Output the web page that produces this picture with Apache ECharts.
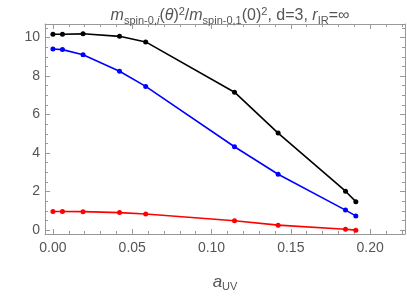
<!DOCTYPE html>
<html><head><meta charset="utf-8">
<script src="https://cdn.jsdelivr.net/npm/echarts@6/dist/echarts.min.js"></script>
<style>html,body{margin:0;padding:0;background:#fff}#c{width:407px;height:297px}</style>
</head><body><div id="c"></div>
<script>
const aUV = [0, 0.006, 0.019, 0.042, 0.0585, 0.1145, 0.142, 0.1845, 0.191];
const level1 = [0.97, 0.97, 0.96, 0.91, 0.84, 0.49, 0.26, 0.05, 0.0];
const level2 = [9.40, 9.37, 9.10, 8.25, 7.46, 4.33, 2.90, 1.04, 0.74];
const level3 = [10.17, 10.17, 10.19, 10.06, 9.77, 7.16, 5.04, 2.02, 1.48];
const xMajor = [0, 0.05, 0.10, 0.15, 0.20];
const xMinor = [0,0.01,0.02,0.03,0.04,0.05,0.06,0.07,0.08,0.09,0.10,0.11,0.12,0.13,0.14,0.15,0.16,0.17,0.18,0.19,0.20,0.21,0.22];
const yMajor = [0, 2, 4, 6, 8, 10];
const yMinor = [0,0.5,1,1.5,2,2.5,3,3.5,4,4.5,5,5.5,6,6.5,7,7.5,8,8.5,9,9.5,10,10.5];

const XMIN = -0.005, XMAX = 0.222, YMIN = -0.2, YMAX = 10.7;
const lineC = '#999', labC = '#555';
const FF = 'Liberation Sans';

function xAx(pos, vals, len, labels, showLine) {
  return {
    type: 'value', position: pos, min: XMIN, max: XMAX,
    axisLine: {show: showLine, onZero: false, lineStyle: {color: lineC, width: 1}},
    axisTick: {show: true, inside: true, length: len, customValues: vals, lineStyle: {color: lineC}},
    axisLabel: labels ? {show: true, customValues: xMajor, formatter: v => v.toFixed(2), color: labC, fontSize: 14, margin: 7, fontFamily: FF} : {show: false},
    splitLine: {show: false}
  };
}
function yAx(pos, vals, len, labels, showLine) {
  return {
    type: 'value', position: pos, min: YMIN, max: YMAX,
    axisLine: {show: showLine, onZero: false, lineStyle: {color: lineC, width: 1}},
    axisTick: {show: true, inside: true, length: len, customValues: vals, lineStyle: {color: lineC}},
    axisLabel: labels ? {show: true, customValues: yMajor, formatter: v => String(v), color: labC, fontSize: 14, margin: 5, fontFamily: FF} : {show: false},
    splitLine: {show: false}
  };
}
function ser(vals, color) {
  return {
    type: 'line', xAxisIndex: 0, yAxisIndex: 0,
    data: aUV.map((x, i) => [x, vals[i]]),
    symbol: 'circle', symbolSize: 5,
    lineStyle: {color: color, width: 1.6},
    itemStyle: {color: color},
    animation: false
  };
}
const chart = echarts.init(document.getElementById('c'), null, {renderer: 'canvas'});
const xa = xAx('bottom', xMajor, 5, true, true);
xa.name = '{a|a}{s|UV}';
xa.nameLocation = 'middle';
xa.nameGap = 38;
xa.nameTextStyle = {rich: {
  a: {fontStyle: 'italic', fontSize: 17, color: labC, fontFamily: FF, lineHeight: 20, verticalAlign: 'middle'},
  s: {fontSize: 11, color: labC, fontFamily: FF, lineHeight: 12, verticalAlign: 'bottom'}
}};
const base = {color: labC, fontFamily: FF, fontWeight: 'normal'};
chart.setOption({
  animation: false,
  grid: {left: 45, right: 2, top: 24, bottom: 52, containLabel: false},
  title: {
    text: '{i|m}{s|spin-0,}{si|i}{n|(}{i|θ}{n|)}{p|2}{n|/}{i|m}{s|spin-0,1}{n|(0)}{p|2}{n|, d=3, }{i|r}{s|IR}{n|=∞}',
    left: 225, top: 1, textAlign: 'center',
    textStyle: Object.assign({fontSize: 16}, base, {rich: {
      n: Object.assign({fontSize: 16, lineHeight: 20, verticalAlign: 'middle'}, base),
      i: Object.assign({fontSize: 16, fontStyle: 'italic', lineHeight: 20, verticalAlign: 'middle'}, base),
      s: Object.assign({fontSize: 11, lineHeight: 10, verticalAlign: 'bottom'}, base),
      si: Object.assign({fontSize: 11, fontStyle: 'italic', lineHeight: 10, verticalAlign: 'bottom'}, base),
      p: Object.assign({fontSize: 11, lineHeight: 10, verticalAlign: 'top'}, base)
    }})
  },
  xAxis: [
    xa,
    xAx('bottom', xMinor, 3, false, false),
    xAx('top', xMajor, 5, false, true),
    xAx('top', xMinor, 3, false, false)
  ],
  yAxis: [
    yAx('left', yMajor, 5, true, true),
    yAx('left', yMinor, 3, false, false),
    yAx('right', yMajor, 5, false, true),
    yAx('right', yMinor, 3, false, false)
  ],
  series: [ser(level3, '#000000'), ser(level2, '#0000ff'), ser(level1, '#ff0000')]
});
</script></body></html>
